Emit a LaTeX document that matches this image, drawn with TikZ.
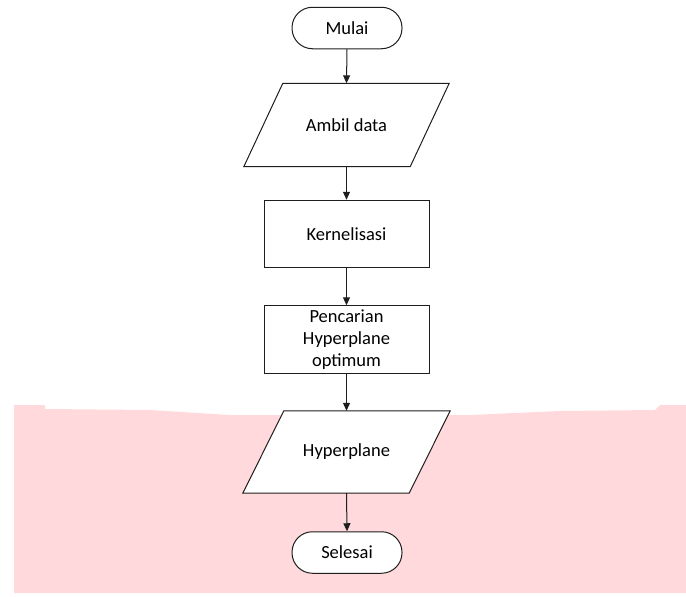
\documentclass[tikz,border=0pt]{standalone}
\usepackage{fontspec}
\setmainfont{Carlito}
\usetikzlibrary{arrows.meta,calc}
\definecolor{bgpink}{RGB}{255,217,220}
\definecolor{edge}{RGB}{30,30,30}
\begin{document}
\begin{tikzpicture}[x=1pt,y=-1pt,
  every node/.style={font=\fontsize{18.5}{21.7}\selectfont, text=black, align=center, inner sep=0pt},
  terminal/.style={draw=edge, line width=1pt, fill=white, rounded corners=20.5pt, minimum width=110pt, minimum height=41.5pt},
  procbox/.style={draw=edge, line width=1pt, fill=white, minimum width=165pt, minimum height=67.5pt},
  iobody/.style={minimum width=166pt, minimum height=83pt},
  iodraw/.style={draw=edge, line width=1pt, fill=white},
  flow/.style={draw=edge, line width=1pt, -{Triangle[length=8pt,width=7pt]}}
]
\useasboundingbox (0,0) rectangle (686,597);
% pink background band
\fill[bgpink] (14,405) -- (45,405) -- (45,409) -- (150,410) -- (230,415) -- (470,415) -- (560,411) -- (655,410) -- (660,405) -- (686,405) -- (686,593) -- (14,593) -- cycle;

% nodes
\node[terminal] (start) at (347,28) {Mulai};
\node[iobody] (in) at (346.5,125) {};
\draw[iodraw] ($(in.north west)+(19.5,0)$) -- ($(in.north east)+(19.5,0)$) -- ($(in.south east)+(-19.5,0)$) -- ($(in.south west)+(-19.5,0)$) -- cycle;
\node at (in.center) {Ambil data};
\node[procbox] (kern) at (346.5,234) {Kernelisasi};
\node[procbox] (hyp) at (346.5,339.5) {Pencarian\\Hyperplane\\optimum};
\node[iobody, minimum height=82pt] (out) at (346.5,452) {};
\draw[iodraw] ($(out.north west)+(20.5,0)$) -- ($(out.north east)+(20.5,0)$) -- ($(out.south east)+(-20.5,0)$) -- ($(out.south west)+(-20.5,0)$) -- cycle;
\node at (out.center) {Hyperplane};
\node[terminal] (stop) at (347,552.5) {Selesai};

% connectors
\draw[flow] (start.south) -- (in.north);
\draw[flow] (in.south) -- (kern.north);
\draw[flow] (kern.south) -- (hyp.north);
\draw[flow] (hyp.south) -- (out.north);
\draw[flow] (out.south) -- (stop.north);
\end{tikzpicture}
\end{document}
